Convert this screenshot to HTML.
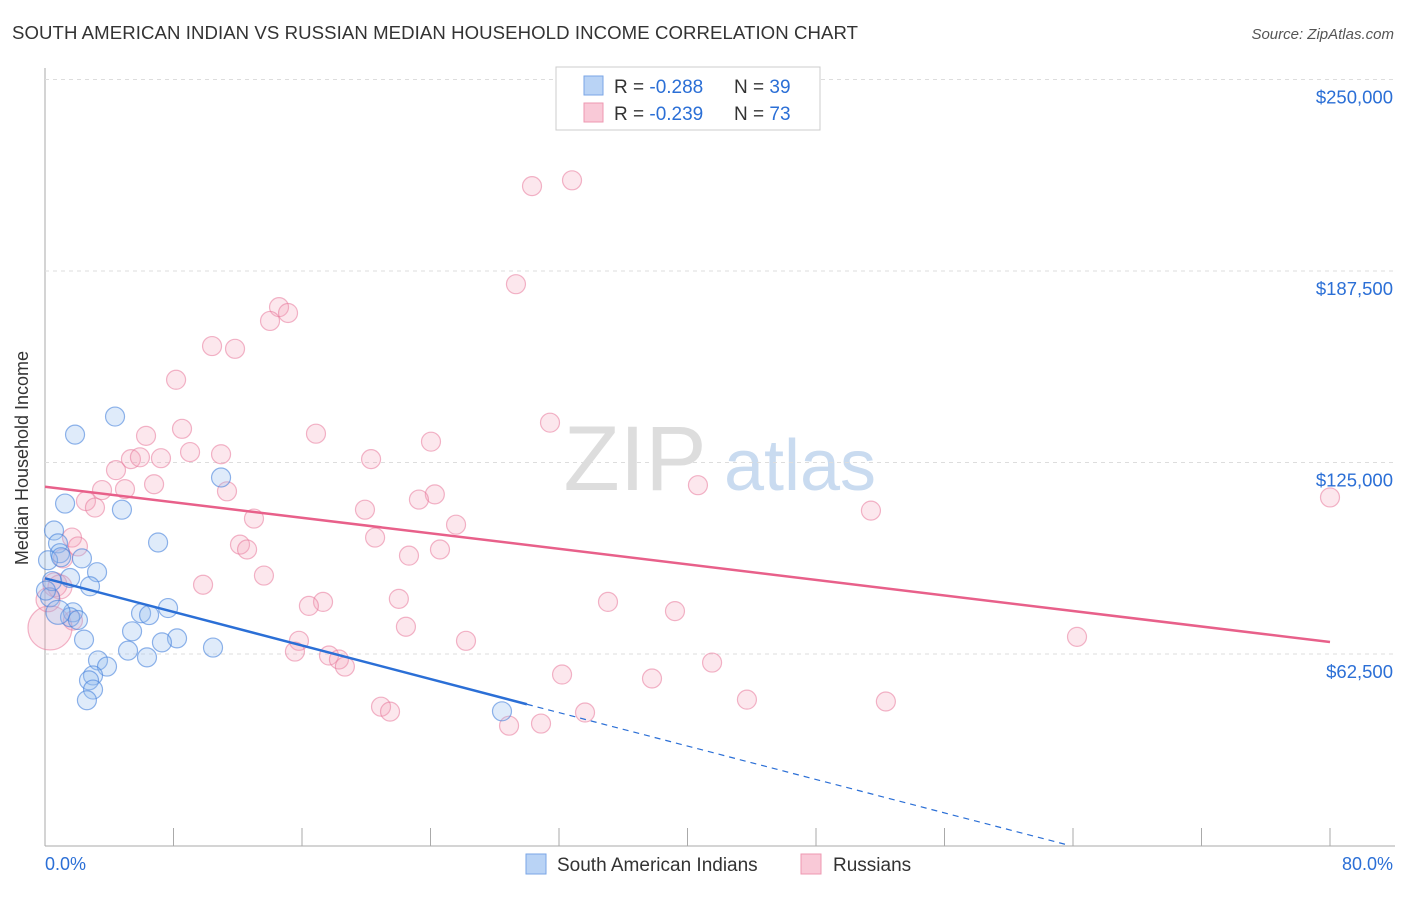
<!DOCTYPE html>
<html><head><meta charset="utf-8"><style>
body{margin:0;background:#fff;font-family:"Liberation Sans",sans-serif;}
svg text{font-family:"Liberation Sans",sans-serif;}
</style></head><body>
<svg id="chart" width="1406" height="892">
<text x="12" y="39" font-size="18.6" fill="#333" textLength="846">SOUTH AMERICAN INDIAN VS RUSSIAN MEDIAN HOUSEHOLD INCOME CORRELATION CHART</text>
<text x="1394" y="39" font-size="15" fill="#555" text-anchor="end" font-style="italic">Source: ZipAtlas.com</text>
<text x="28" y="458" font-size="18" fill="#333" text-anchor="middle" transform="rotate(-90 28 458)">Median Household Income</text>
<g><text x="635" y="490" font-size="92" fill="#ddd" font-family="Liberation Serif" text-anchor="middle">ZIP</text><text x="800" y="490" font-size="72" fill="#c9dbf0" text-anchor="middle">atlas</text></g>
<g id="grid"></g><g id="marks"></g>
<g>
<rect x="556" y="67" width="264" height="63" fill="#fff" stroke="#ccc"/>
<rect x="584" y="76" width="19" height="19" fill="#b9d3f5" stroke="#7aa6e6"/>
<text x="614" y="93" font-size="19" fill="#333">R = <tspan fill="#2b6fd6">-0.288</tspan></text>
<text x="734" y="93" font-size="19" fill="#333">N = <tspan fill="#2b6fd6">39</tspan></text>
<rect x="584" y="103" width="19" height="19" fill="#f9c9d7" stroke="#ee98b2"/>
<text x="614" y="120" font-size="19" fill="#333">R = <tspan fill="#2b6fd6">-0.239</tspan></text>
<text x="734" y="120" font-size="19" fill="#333">N = <tspan fill="#2b6fd6">73</tspan></text>
</g>
<g>
<rect x="526" y="854" width="20" height="20" fill="#b9d3f5" stroke="#7aa6e6"/>
<text x="557" y="871" font-size="19" fill="#333">South American Indians</text>
<rect x="801" y="854" width="20" height="20" fill="#f9c9d7" stroke="#ee98b2"/>
<text x="833" y="871" font-size="19" fill="#333">Russians</text>
</g>
<text x="45" y="870" font-size="18" fill="#2b6fd6">0.0%</text>
<text x="1393" y="870" font-size="18" fill="#2b6fd6" text-anchor="end">80.0%</text>
</svg>
<script>
const yTicks=[62500,125000,187500,250000];
const yTickLabels=["$62,500","$125,000","$187,500","$250,000"];
const blueX=[4.36,1.87,1.25,4.79,0.56,7.04,0.81,0.93,2.30,0.19,1.56,3.24,2.80,0.31,5.98,7.66,6.48,1.74,1.56,2.05,5.42,2.43,8.22,7.28,10.46,5.17,6.35,3.30,3.86,2.99,2.74,2.99,2.61,10.96,28.45,0.44,1.00,0.06,0.81];
const blueY=[140.0,134.1,111.6,109.6,102.8,98.9,98.6,95.4,93.7,93.1,87.3,89.2,84.6,81.0,75.8,77.5,75.2,76.1,74.5,73.6,69.9,67.2,67.6,66.3,64.6,63.6,61.4,60.4,58.4,55.5,53.9,50.9,47.4,120.1,43.8,86.3,94.1,83.2,76.1];
const pinkX=[30.32,32.81,29.32,14.57,15.13,14.01,10.40,11.83,8.16,31.44,8.53,6.29,16.87,24.03,5.35,9.03,10.96,7.22,5.91,20.30,4.42,4.98,6.79,3.55,40.65,11.33,2.55,24.27,23.28,3.11,80.0,51.42,19.92,13.01,25.59,12.14,20.55,12.58,1.68,2.05,24.59,22.66,1.12,13.63,9.84,22.03,35.05,17.31,16.43,39.22,22.47,1.74,64.25,15.81,26.21,15.56,17.68,18.30,18.67,41.53,32.19,37.79,43.70,52.35,20.92,21.48,33.62,28.89,30.88,0.31,0.62,0.93,0.19];
const pinkY=[215.2,217.1,183.2,175.7,173.8,171.2,163.0,162.1,152.0,138.0,136.0,133.7,134.4,131.8,126.1,128.4,127.7,126.4,126.7,126.1,122.5,116.3,117.9,116.0,117.6,115.6,112.4,114.6,112.9,110.3,113.6,109.3,109.6,106.7,104.7,98.2,100.5,96.6,100.5,97.6,96.6,94.6,93.7,88.1,85.1,80.5,79.5,79.5,78.2,76.5,71.4,73.4,68.1,66.8,66.8,63.3,62.0,60.7,58.4,59.7,55.8,54.5,47.6,47.0,45.3,43.7,43.4,39.1,39.8,71.0,85.1,84.4,80.2];
const blueTrend=[0,30,63.8]; const blueTrendY=[87.2,46.1,0];
const pinkTrend=[0,80]; const pinkTrendY=[117.1,66.4];
const X0=45,X1=1330,YB=845.5,PPK=191.5/62.5;
const sx=v=>X0+(v/80)*(X1-X0), sy=v=>YB-v*PPK;
const NS="http://www.w3.org/2000/svg";
const grid=document.getElementById('grid'), marks=document.getElementById('marks');
function mk(tag,attrs,parent){const e=document.createElementNS(NS,tag);for(const k in attrs)e.setAttribute(k,attrs[k]);parent.appendChild(e);return e;}
let ax=mk('line',{x1:45,y1:68,x2:45,y2:846,stroke:'#aaa'},grid);


let xa=mk('line',{x1:45,y1:846,x2:1395,y2:846,stroke:'#aaa'},grid);


for(let i=1;i<=10;i++){const x=45+i*128.5;let t=mk('line',{x1:x,y1:828,x2:x,y2:846,stroke:'#aaa'},grid);

}
yTicks.forEach((v,i)=>{const y=sy(v/1000);
let g=mk('line',{x1:45,y1:y,x2:1395,y2:y,stroke:'#ddd','stroke-dasharray':'4,4'},grid);


let t=mk('text',{x:1393,y:y+24,'font-size':18.5,fill:'#2b6fd6','text-anchor':'end'},grid);t.textContent=yTickLabels[i];

});
pinkX.forEach((x,i)=>{const r=(i==69)?22:(i>=70?12:9.5);
let c=mk('circle',{cx:sx(x),cy:sy(pinkY[i]),r:r,fill:'rgba(245,160,185,0.25)',stroke:'rgba(232,120,155,0.55)','stroke-width':1.2},marks);

});
blueX.forEach((x,i)=>{const r=i==38?12:9.5;
let c=mk('circle',{cx:sx(x),cy:sy(blueY[i]),r:r,fill:'rgba(150,190,240,0.3)',stroke:'rgba(70,130,220,0.6)','stroke-width':1.2},marks);

});
let pl=mk('line',{x1:sx(pinkTrend[0]),y1:sy(pinkTrendY[0]),x2:sx(pinkTrend[1]),y2:sy(pinkTrendY[1]),stroke:'#e8608a','stroke-width':2.5},marks);


let bl=mk('line',{x1:sx(blueTrend[0]),y1:sy(blueTrendY[0]),x2:sx(blueTrend[1]),y2:sy(blueTrendY[1]),stroke:'#2b6fd6','stroke-width':2.5},marks);


let bd=mk('line',{x1:sx(blueTrend[1]),y1:sy(blueTrendY[1]),x2:sx(blueTrend[2]),y2:sy(blueTrendY[2]),stroke:'#2b6fd6','stroke-width':1.2,'stroke-dasharray':'6,5'},marks);


</script>
</body></html>
